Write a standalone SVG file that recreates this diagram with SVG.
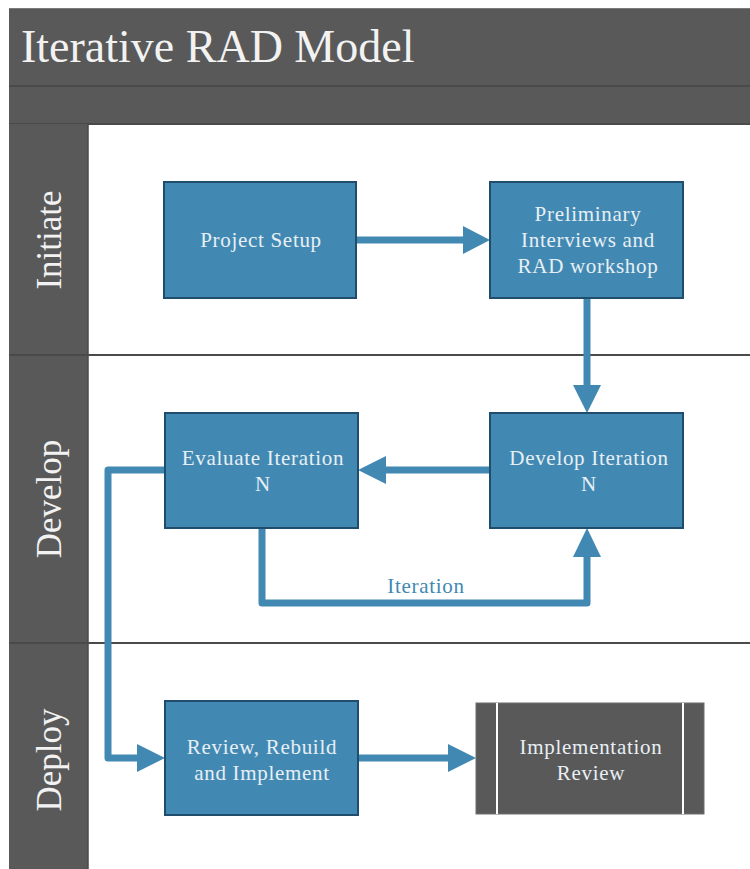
<svg xmlns="http://www.w3.org/2000/svg" width="750" height="869" viewBox="0 0 750 869">
  <style>
    .frame { fill: #595959; }
    .rule { stroke: #4a4a4a; stroke-width: 2; }
    .title { font-size: 46px; fill: #f2f2f2; }
    .lane { font-size: 35px; fill: #f2f2f2; text-anchor: middle; }
    .box { fill: #4189b3; stroke: #1f4d6b; stroke-width: 2; }
    .dark { fill: #595959; stroke: #6e6e6e; stroke-width: 1; }
    .label { font-size: 21px; letter-spacing: 0.7px; fill: #e8eff4; text-anchor: middle; }
    .flow { fill: none; stroke: #4189b3; stroke-width: 7; stroke-linejoin: round; }
    .head { fill: #4189b3; }
    .edge-label { font-size: 21px; letter-spacing: 0.7px; fill: #4189b3; text-anchor: middle; }
  </style>

  <!-- page background -->
  <rect x="0" y="0" width="750" height="869" fill="#ffffff"/>

  <g font-family="'Liberation Serif', 'DejaVu Serif', serif">
  <!-- pool frame: title bar, sub bar, lane header column -->
  <g id="pool">
    <rect class="frame" x="9" y="9" width="741" height="116"/>
    <line x1="9" y1="8.5" x2="750" y2="8.5" stroke="#7a7a7a" stroke-width="1"/>
    <line class="rule" x1="9" y1="86" x2="750" y2="86"/>
    <line class="rule" x1="9" y1="124" x2="750" y2="124"/>
    <text class="title" x="21" y="62" font-family="'Liberation Serif', serif">Iterative RAD Model</text>
    <rect class="frame" x="9" y="124" width="79" height="745"/>
    <line x1="88" y1="124" x2="88" y2="869" stroke="#4a4a4a" stroke-width="1.5"/>
  </g>

  <!-- lanes -->
  <g id="lane-initiate">
    <text class="lane" font-family="'Liberation Serif', serif" transform="translate(61 240) rotate(-90)">Initiate</text>
  </g>
  <g id="lane-develop">
    <line class="rule" x1="9" y1="355" x2="750" y2="355"/>
    <text class="lane" font-family="'Liberation Serif', serif" transform="translate(61 499) rotate(-90)">Develop</text>
  </g>
  <g id="lane-deploy">
    <line class="rule" x1="9" y1="643" x2="750" y2="643"/>
    <text class="lane" font-family="'Liberation Serif', serif" transform="translate(61 760) rotate(-90)">Deploy</text>
  </g>

  <!-- connectors -->
  <g id="connectors">
    <!-- Project Setup to Preliminary Interviews -->
    <line class="flow" x1="356" y1="240" x2="465" y2="240"/>
    <polygon class="head" points="490,240 463,226 463,254"/>
    <!-- Preliminary Interviews to Develop Iteration -->
    <line class="flow" x1="587" y1="298" x2="587" y2="388"/>
    <polygon class="head" points="587,413 573,385 601,385"/>
    <!-- Develop Iteration to Evaluate Iteration -->
    <line class="flow" x1="490" y1="470" x2="383" y2="470"/>
    <polygon class="head" points="358,470 386,456 386,484"/>
    <!-- Iteration loop back to Develop Iteration -->
    <polyline class="flow" points="262,528 262,603 587,603 587,555"/>
    <polygon class="head" points="587,528 573,557 601,557"/>
    <text class="edge-label" font-family="'Liberation Serif', serif" x="426" y="593">Iteration</text>
    <!-- Evaluate Iteration to Review, Rebuild and Implement -->
    <polyline class="flow" points="165,470 108,470 108,758 140,758"/>
    <polygon class="head" points="165,758 137,744 137,772"/>
    <!-- Review, Rebuild and Implement to Implementation Review -->
    <line class="flow" x1="358" y1="758" x2="450" y2="758"/>
    <polygon class="head" points="476,758 448,744 448,772"/>
  </g>

  <!-- nodes -->
  <g id="project-setup" font-family="'Liberation Serif', serif">
    <rect class="box" x="164" y="182" width="192" height="116"/>
    <text class="label" x="261" y="247">Project Setup</text>
  </g>
  <g id="preliminary-interviews" font-family="'Liberation Serif', serif">
    <rect class="box" x="490" y="182" width="193" height="116"/>
    <text class="label" x="588" y="221">Preliminary</text>
    <text class="label" x="588" y="247">Interviews and</text>
    <text class="label" x="588" y="273">RAD workshop</text>
  </g>
  <g id="evaluate-iteration" font-family="'Liberation Serif', serif">
    <rect class="box" x="165" y="413" width="193" height="115"/>
    <text class="label" x="263" y="465">Evaluate Iteration</text>
    <text class="label" x="263" y="491">N</text>
  </g>
  <g id="develop-iteration" font-family="'Liberation Serif', serif">
    <rect class="box" x="490" y="413" width="193" height="115"/>
    <text class="label" x="589" y="465">Develop Iteration</text>
    <text class="label" x="589" y="491">N</text>
  </g>
  <g id="review-rebuild" font-family="'Liberation Serif', serif">
    <rect class="box" x="165" y="701" width="193" height="114"/>
    <text class="label" x="262" y="754">Review, Rebuild</text>
    <text class="label" x="262" y="780">and Implement</text>
  </g>
  <g id="implementation-review" font-family="'Liberation Serif', serif">
    <rect class="dark" x="476" y="703" width="228" height="111"/>
    <line x1="497" y1="703" x2="497" y2="814" stroke="#ffffff" stroke-width="2"/>
    <line x1="683" y1="703" x2="683" y2="814" stroke="#ffffff" stroke-width="2"/>
    <text class="label" x="591" y="754">Implementation</text>
    <text class="label" x="591" y="780">Review</text>
  </g>
  </g>
</svg>
